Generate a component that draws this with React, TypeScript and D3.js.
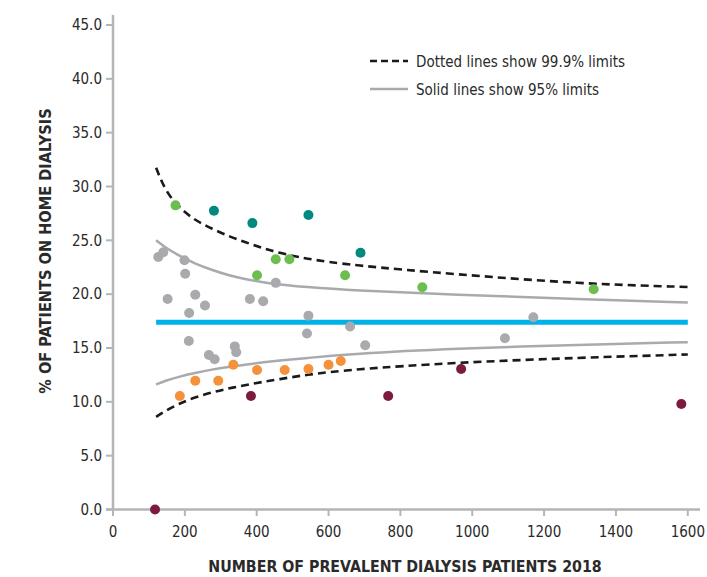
import React from "react";
import * as d3 from "d3";

// ---- data ----
const xTicks = [0, 200, 400, 600, 800, 1000, 1200, 1400, 1600];
const yTicks = [0, 5, 10, 15, 20, 25, 30, 35, 40, 45];
const targetValue = 17.4;

const grayX = [126, 140, 199, 201, 152, 229, 256, 212, 381, 418, 453, 544, 540, 211, 339, 267, 283, 343, 660, 702, 1091, 1170];
const grayY = [23.45, 23.9, 23.15, 21.9, 19.55, 19.95, 18.95, 18.25, 19.55, 19.35, 21.05, 18.0, 16.35, 15.65, 15.15, 14.35, 13.95, 14.6, 17.0, 15.25, 15.9, 17.85];

const tealX = [281, 388, 544, 689];
const tealY = [27.75, 26.6, 27.35, 23.85];

const greenX = [174, 401, 453, 491, 646, 861, 1338];
const greenY = [28.25, 21.75, 23.25, 23.25, 21.75, 20.65, 20.45];

const orangeX = [186, 229, 293, 335, 401, 478, 544, 600, 634];
const orangeY = [10.55, 11.95, 11.95, 13.45, 12.95, 12.95, 13.05, 13.45, 13.8];

const maroonX = [117, 384, 766, 969, 1582];
const maroonY = [0.0, 10.55, 10.55, 13.05, 9.8];

const limitX = [120, 145, 182, 228, 275, 321, 367, 414, 460, 534, 660, 953, 1300, 1600];
const upper999 = [31.74, 29.64, 28.09, 26.86, 26.08, 25.4, 24.84, 24.3, 23.86, 23.3, 22.7, 21.85, 20.96, 20.67];
const upper95 = [25.0, 24.35, 23.6, 22.84, 22.25, 21.75, 21.4, 21.13, 20.9, 20.67, 20.35, 19.94, 19.55, 19.22];
const lower95 = [11.61, 11.95, 12.32, 12.7, 13.0, 13.25, 13.45, 13.65, 13.82, 14.05, 14.45, 14.95, 15.3, 15.54];
const lower999 = [8.61, 9.15, 9.8, 10.42, 10.88, 11.24, 11.55, 11.84, 12.08, 12.5, 13.0, 13.65, 14.1, 14.4];

const legendLabels = ["Dotted lines show 99.9% limits", "Solid lines show 95% limits"];
const xTitle = "NUMBER OF PREVALENT DIALYSIS PATIENTS 2018";
const yTitle = "% OF PATIENTS ON HOME DIALYSIS";

const COL = {
  gray: "#a8aaad",
  teal: "#00897e",
  green: "#6cbf4f",
  orange: "#f5913a",
  maroon: "#7c1a40",
  blue: "#00b2ea",
  axis: "#b3b5b7",
  text: "#2a2a2a",
};

const FONT = "'DejaVu Sans Condensed', 'Liberation Sans Narrow', 'Roboto', sans-serif";

export default function App() {
  const W = 707, H = 577;
  const x = d3.scaleLinear().domain([0, 1600]).range([113, 687.8]);
  const y = d3.scaleLinear().domain([0, 45]).range([509.5, 25]);

  const line = d3
    .line<[number, number]>()
    .x((d) => x(d[0]))
    .y((d) => y(d[1]))
    .curve(d3.curveBasis);
  const mk = (ys: number[]) => line(limitX.map((v, i) => [v, ys[i]] as [number, number])) || "";

  const groups = [
    { xs: grayX, ys: grayY, c: COL.gray },
    { xs: tealX, ys: tealY, c: COL.teal },
    { xs: greenX, ys: greenY, c: COL.green },
    { xs: orangeX, ys: orangeY, c: COL.orange },
    { xs: maroonX, ys: maroonY, c: COL.maroon },
  ];

  return (
    <svg width={W} height={H} style={{ position: "absolute", left: 0, top: 0, background: "#fff" }} fontFamily={FONT}>
      <rect x={0} y={0} width={W} height={H} fill="#fff" />
      {/* axes */}
      <line x1={x(0)} x2={x(0)} y1={15} y2={y(0)} stroke={COL.axis} strokeWidth={2.5} />
      <line x1={106} x2={700} y1={y(0)} y2={y(0)} stroke={COL.axis} strokeWidth={2.5} />
      {yTicks.map((t) => (
        <g key={"y" + t}>
          <line x1={106} x2={x(0)} y1={y(t)} y2={y(t)} stroke={COL.axis} strokeWidth={2} />
          <text x={102} y={y(t)} dy="0.35em" textAnchor="end" fontSize={15} fill={COL.text}>
            {t.toFixed(1)}
          </text>
        </g>
      ))}
      {xTicks.map((t) => (
        <g key={"x" + t}>
          <line x1={x(t)} x2={x(t)} y1={y(0)} y2={516} stroke={COL.axis} strokeWidth={2} />
          <text x={x(t)} y={537} textAnchor="middle" fontSize={15} fill={COL.text}>
            {t}
          </text>
        </g>
      ))}
      <text x={405} y={572} textAnchor="middle" fontSize={15.8} fontWeight="bold" fill={COL.text}>
        {xTitle}
      </text>
      <text transform={`translate(51,251) rotate(-90)`} textAnchor="middle" fontSize={16.2} fontWeight="bold" fill={COL.text}>
        {yTitle}
      </text>

      {/* target line */}
      <line x1={x(120)} x2={x(1600)} y1={y(targetValue)} y2={y(targetValue)} stroke={COL.blue} strokeWidth={5} />

      {/* limits */}
      <path d={mk(upper95)} fill="none" stroke={COL.gray} strokeWidth={2.5} />
      <path d={mk(lower95)} fill="none" stroke={COL.gray} strokeWidth={2.5} />
      <path d={mk(upper999)} fill="none" stroke="#1a1a1a" strokeWidth={2.6} strokeDasharray="8,5" />
      <path d={mk(lower999)} fill="none" stroke="#1a1a1a" strokeWidth={2.6} strokeDasharray="8,5" />

      {/* points */}
      {groups.map((g, gi) =>
        g.xs.map((v, i) => <circle key={gi + "-" + i} cx={x(v)} cy={y(g.ys[i])} r={5} fill={g.c} />)
      )}

      {/* legend */}
      <line x1={370} x2={408} y1={61} y2={61} stroke="#1a1a1a" strokeWidth={2.6} strokeDasharray="7,4" />
      <text x={416} y={66.5} fontSize={15} fill={COL.text}>{legendLabels[0]}</text>
      <line x1={370} x2={408} y1={89} y2={89} stroke={COL.gray} strokeWidth={2.5} />
      <text x={416} y={94.5} fontSize={15} fill={COL.text}>{legendLabels[1]}</text>
    </svg>
  );
}
